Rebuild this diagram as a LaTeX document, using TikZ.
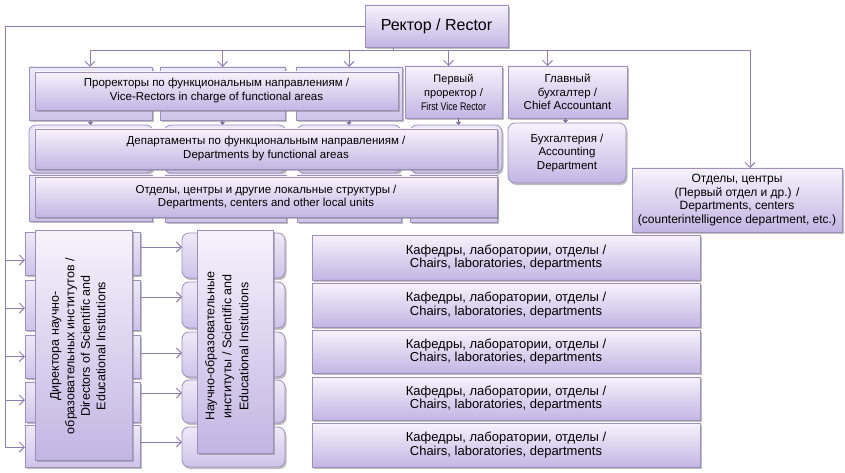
\documentclass[tikz,border=0pt]{standalone}
\usepackage{fontspec}
\usepackage{graphicx}
\setmainfont{Liberation Sans}
\usetikzlibrary{arrows.meta,shadows}
\definecolor{bord}{HTML}{9C8FBA}
\definecolor{ctop}{HTML}{F6F3FC}
\definecolor{cbot}{HTML}{C3B5E3}
\definecolor{btop}{HTML}{EEEAF8}
\definecolor{bbot}{HTML}{CEC3EA}
\definecolor{conn}{HTML}{8E80AE}
\definecolor{tipc}{HTML}{7A6A9E}
\newcommand\bx[7]{\node[#6, minimum width={(#4-#2)*1pt}, minimum height={(#5-#3)*1pt}] (#1) at ({(#2+#4)/2},{(#3+#5)/2}) {#7};}
\tikzset{
 base/.style={draw=bord, line width=0.8pt, inner sep=1pt, outer sep=0pt, align=center,
   font=\fontsize{11.5}{13.5}\selectfont,
   drop shadow={shadow xshift=1.5pt, shadow yshift=-2pt, fill=black!50, opacity=0.5}},
 mainbox/.style={base, top color=ctop, bottom color=cbot},
 backbox/.style={base, top color=btop, bottom color=bbot},
 rbackbox/.style={backbox, rounded corners=7pt},
 line/.style={draw=conn, line width=0.9pt},
 arr/.style={line, -{Straight Barb[length=5pt,width=10pt]}},
 tipline/.style={draw=tipc, line width=0.8pt, -{Triangle[length=3pt,width=5pt]}},
 kaf/.style={mainbox, font=\fontsize{13}{13.5}\selectfont},
 rot/.style={mainbox, rotate=90},
}
\begin{document}
\begin{tikzpicture}[x=1pt,y=-1pt]
\fill[white] (0,0) rectangle (845,473);
\useasboundingbox (0,0) rectangle (845,473);
% Rector
\bx{rector}{365}{5}{508}{47}{mainbox,font=\fontsize{16}{18}\selectfont}{Ректор / Rector}
% Vice-rectors
\bx{vrb1}{29}{67}{152}{120}{backbox}{}
\bx{vrb2}{160}{67}{285}{120}{backbox}{}
\bx{vrb3}{296}{67}{402}{120}{backbox}{}
\bx{vr}{35}{72}{398}{110}{mainbox,font=\fontsize{11.5}{14}\selectfont}{Проректоры по функциональным направлениям /\\Vice-Rectors in charge of functional areas}
\bx{fvr}{405}{66}{502}{118}{mainbox,font=\fontsize{11}{14}\selectfont}{Первый\\проректор /\\\scalebox{0.8}[1]{First Vice Rector}}
\bx{chief}{508}{66}{627}{118}{mainbox}{Главный\\бухгалтер /\\Chief Accountant}
\bx{acc}{508}{123}{626}{183}{mainbox,rounded corners=7pt}{Бухгалтерия /\\Accounting\\Department}
% Departments
\bx{depb1}{29}{125}{153}{173}{rbackbox}{}
\bx{depb2}{164}{125}{286}{173}{rbackbox}{}
\bx{depb3}{297}{125}{401}{173}{rbackbox}{}
\bx{depb4}{410}{125}{502}{173}{rbackbox}{}
\bx{dep}{35}{129}{497}{169}{mainbox,font=\fontsize{11.5}{14}\selectfont}{Департаменты по функциональным направлениям /\\Departments by functional areas}
% Local units
\bx{locb1}{29}{175}{152}{221}{backbox}{}
\bx{locb2}{165}{175}{286}{222}{backbox}{}
\bx{locb3}{297}{175}{401}{222}{backbox}{}
\bx{locb4}{410}{175}{497}{222}{backbox}{}
\bx{loc}{35}{177}{497}{217}{mainbox,font=\fontsize{11.5}{13}\selectfont}{Отделы, центры и другие локальные структуры /\\Departments, centers and other local units}
% Right box
\bx{rb}{632}{168}{842}{232}{mainbox,font=\fontsize{12}{13.5}\selectfont}{Отделы, центры\\(Первый отдел и др.) /\\Departments, centers\\(counterintelligence department, etc.)}
% Directors
\bx{dirb1}{25}{232}{140}{275}{backbox}{}
\bx{dirb2}{25}{280}{140}{330}{backbox}{}
\bx{dirb3}{25}{335}{140}{378}{backbox}{}
\bx{dirb4}{25}{382}{140}{422}{backbox}{}
\bx{dirb5}{25}{425}{140}{467}{backbox}{}
\node[rot, font=\fontsize{12.5}{15.5}\selectfont, minimum width=230pt, minimum height=97pt] (dir) at (83.5,345) {\raisebox{1.5pt}[0pt][0pt]{\begin{tabular}{@{}c@{}}Директора научно-\\образовательных институтов /\\Directors of Scientific and\\Educational Institutions\end{tabular}\kern2pt}};
% Institutes
\bx{insb1}{182}{233}{285}{278}{rbackbox}{}
\bx{insb2}{182}{282}{285}{328}{rbackbox}{}
\bx{insb3}{182}{332}{285}{377}{rbackbox}{}
\bx{insb4}{182}{380}{285}{423}{rbackbox}{}
\bx{insb5}{182}{427}{285}{467}{rbackbox}{}
\node[rot, font=\fontsize{12.5}{17}\selectfont, minimum width=223pt, minimum height=76pt] (ins) at (235,341.5) {\raisebox{4pt}[0pt][0pt]{\begin{tabular}{@{}c@{}}Научно-образовательные\\институты / Scientific and\\Educational Institutions\end{tabular}\kern10pt}};
% Chairs
\bx{kaf1}{312}{235}{700}{280}{kaf}{Кафедры, лаборатории, отделы /\\Chairs, laboratories, departments}
\bx{kaf2}{312}{283}{700}{327}{kaf}{Кафедры, лаборатории, отделы /\\Chairs, laboratories, departments}
\bx{kaf3}{312}{330}{700}{373}{kaf}{Кафедры, лаборатории, отделы /\\Chairs, laboratories, departments}
\bx{kaf4}{312}{377}{700}{420}{kaf}{Кафедры, лаборатории, отделы /\\Chairs, laboratories, departments}
\bx{kaf5}{312}{423}{700}{467}{kaf}{Кафедры, лаборатории, отделы /\\Chairs, laboratories, departments}
% Connectors: top bus
\coordinate (tbL) at (90,50);
\coordinate (tbR) at (750,50);
\draw[line] ([xshift=28pt]rector.south west) -- ([xshift=28pt]rector.south west |- tbL);
\draw[line] (tbL) -- (tbR);
\draw[arr] (tbL) -- (tbL |- vrb1.north);
\draw[arr] (vrb2.north |- tbL) -- (vrb2.north);
\draw[arr] (vrb3.north |- tbL) -- (vrb3.north);
\draw[arr] ([xshift=-5pt]fvr.north |- tbL) -- ([xshift=-5pt]fvr.north);
\draw[arr] ([xshift=-20pt]chief.north |- tbL) -- ([xshift=-20pt]chief.north);
\draw[arr] (tbR) -- (tbR |- rb.north);
% small tips
\draw[tipline] (vrb1.south) -- (vrb1.south |- depb1.north);
\draw[tipline] (vrb2.south) -- (vrb2.south |- depb2.north);
\draw[tipline] (vrb3.south) -- (vrb3.south |- depb3.north);
\draw[tipline] ([xshift=5pt]fvr.south) -- ([xshift=5pt]fvr.south |- depb4.north);
\draw[tipline] ([xshift=-2pt]chief.south) -- ([xshift=-2pt]chief.south |- acc.north);
% left bus
\coordinate (lbE) at (5,447);
\draw[line] (rector.west) -| (lbE);
\draw[arr] ([yshift=-6.5pt]dirb1.west -| lbE) -- ([yshift=-6.5pt]dirb1.west);
\draw[arr] ([yshift=-3pt]dirb2.west -| lbE) -- ([yshift=-3pt]dirb2.west);
\draw[arr] (dirb3.west -| lbE) -- (dirb3.west);
\draw[arr] ([yshift=2pt]dirb4.west -| lbE) -- ([yshift=2pt]dirb4.west);
\draw[arr] (lbE) -- (lbE -| dirb5.west);
% directors -> institutes
\draw[arr] ([yshift=6.5pt]dirb1.east) -- ([yshift=6.5pt]dirb1.east -| insb1.west);
\draw[arr] ([yshift=8pt]dirb2.east) -- ([yshift=8pt]dirb2.east -| insb2.west);
\draw[arr] ([yshift=3.5pt]dirb3.east) -- ([yshift=3.5pt]dirb3.east -| insb3.west);
\draw[arr] ([yshift=9pt]dirb4.east) -- ([yshift=9pt]dirb4.east -| insb4.west);
\draw[arr] ([yshift=4pt]dirb5.east) -- ([yshift=4pt]dirb5.east -| insb5.west);
\end{tikzpicture}
\end{document}
